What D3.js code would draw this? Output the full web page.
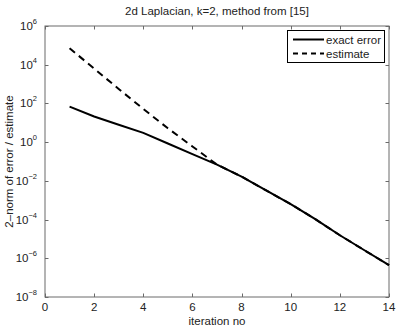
<!DOCTYPE html>
<html>
<head>
<meta charset="utf-8">
<script src="https://cdn.jsdelivr.net/npm/d3@7"></script>
<style>
  body { margin: 0; background: #fff; }
  svg { display: block; font-family: "Liberation Sans", Arial, sans-serif; }
</style>
</head>
<body>
<div id="chart"></div>
<script>
// iteration numbers
var iterations = [1, 2, 3, 4, 5, 6, 7, 8, 9, 10, 11, 12, 13, 14];
// exact error per iteration
var exactError = [68, 21, 7.9, 3.0, 0.85, 0.24, 0.069, 0.0166, 0.0032, 6.3e-4, 1.05e-4, 1.55e-5, 2.6e-6, 4.4e-7];
// error estimate per iteration
var estimate = [7.1e4, 6.3e3, 560, 52, 5.2, 0.6, 0.069, 0.0166, 0.0032, 6.3e-4, 1.05e-4, 1.55e-5, 2.6e-6, 4.4e-7];
var xTicks = [0, 2, 4, 6, 8, 10, 12, 14];
var yTickExps = [6, 4, 2, 0, -2, -4, -6, -8];

function MyChart() {

    this.init = function() {
        this._config = {
            width: 399,
            height: 329,
            left: 45,
            right: 389,
            top: 26,
            bottom: 297,
            font: 11.5
        };
        this._initElements();
        this._drawAxes();
        this._drawLines();
        this._drawLegend();
    };

    this._initElements = function() {
        var c = this._config;
        this._svg = d3.select('#chart')
            .append('svg')
            .attr('width', c.width)
            .attr('height', c.height);
        this._x = d3.scaleLinear().domain([0, 14]).range([c.left, c.right]);
        this._y = d3.scaleLog().domain([1e-8, 1e6]).range([c.bottom, c.top]);
    };

    this._drawAxes = function() {
        var c = this._config, x = this._x, y = this._y, svg = this._svg;
        var tickLen = 3.5;
        var axisColor = '#6a6a6a';

        svg.append('rect')
            .attr('x', c.left).attr('y', c.top)
            .attr('width', c.right - c.left).attr('height', c.bottom - c.top)
            .attr('fill', 'none').attr('stroke', axisColor).attr('stroke-width', 1);

        var g = svg.append('g').attr('stroke', axisColor).attr('stroke-width', 1);
        xTicks.forEach(function(t) {
            var px = Math.round(x(t)) + 0.5;
            g.append('line').attr('x1', px).attr('x2', px)
                .attr('y1', c.bottom).attr('y2', c.bottom - tickLen);
            g.append('line').attr('x1', px).attr('x2', px)
                .attr('y1', c.top).attr('y2', c.top + tickLen);
        });
        yTickExps.forEach(function(e) {
            var py = Math.round(y(Math.pow(10, e))) + 0.5;
            g.append('line').attr('x1', c.left).attr('x2', c.left + tickLen)
                .attr('y1', py).attr('y2', py);
            g.append('line').attr('x1', c.right).attr('x2', c.right - tickLen)
                .attr('y1', py).attr('y2', py);
        });

        svg.selectAll('.xlab').data(xTicks).enter().append('text')
            .attr('class', 'xlab')
            .attr('x', function(d) { return x(d); })
            .attr('y', c.bottom + 14)
            .attr('text-anchor', 'middle')
            .attr('font-size', c.font)
            .attr('fill', '#222')
            .text(function(d) { return d; });

        var yl = svg.selectAll('.ylab').data(yTickExps).enter().append('text')
            .attr('class', 'ylab')
            .attr('x', 37)
            .attr('y', function(d) { return y(Math.pow(10, d)) + 4; })
            .attr('text-anchor', 'end')
            .attr('font-size', c.font)
            .attr('fill', '#222');
        yl.append('tspan').text('10');
        yl.append('tspan')
            .attr('dy', -6)
            .attr('font-size', 7.5)
            .text(function(d) { return d < 0 ? '\u2212' + (-d) : d; });

        svg.append('text')
            .attr('x', (c.left + c.right) / 2)
            .attr('y', 15)
            .attr('text-anchor', 'middle')
            .attr('font-size', c.font)
            .attr('fill', '#222')
            .text('2d Laplacian, k=2, method from [15]');

        svg.append('text')
            .attr('x', (c.left + c.right) / 2)
            .attr('y', 325)
            .attr('text-anchor', 'middle')
            .attr('font-size', c.font)
            .attr('fill', '#222')
            .text('iteration no');

        svg.append('text')
            .attr('transform', 'translate(13,' + ((c.top + c.bottom) / 2) + ') rotate(-90)')
            .attr('text-anchor', 'middle')
            .attr('font-size', c.font)
            .attr('fill', '#222')
            .text('2\u2013norm of error / estimate');
    };

    this._drawLines = function() {
        var x = this._x, y = this._y;
        var line = d3.line()
            .x(function(d) { return x(d[0]); })
            .y(function(d) { return y(d[1]); });

        this._svg.append('path')
            .datum(d3.zip(iterations, exactError))
            .attr('d', line)
            .attr('fill', 'none')
            .attr('stroke', '#000')
            .attr('stroke-width', 2);

        this._svg.append('path')
            .datum(d3.zip(iterations, estimate))
            .attr('d', line)
            .attr('fill', 'none')
            .attr('stroke', '#000')
            .attr('stroke-width', 2)
            .attr('stroke-dasharray', '7,5');
    };

    this._drawLegend = function() {
        var svg = this._svg, c = this._config;
        var lg = svg.append('g');
        lg.append('rect')
            .attr('x', 287.5).attr('y', 30.5)
            .attr('width', 97).attr('height', 32)
            .attr('fill', '#fff').attr('stroke', '#000').attr('stroke-width', 1);
        var rows = [
            { name: 'exact error', dash: null, y: 39.5 },
            { name: 'estimate', dash: '5,4', y: 53.5 }
        ];
        rows.forEach(function(r) {
            var l = lg.append('line')
                .attr('x1', 293).attr('x2', 324)
                .attr('y1', r.y).attr('y2', r.y)
                .attr('stroke', '#000').attr('stroke-width', 2);
            if (r.dash) l.attr('stroke-dasharray', r.dash);
            lg.append('text')
                .attr('x', 326).attr('y', r.y + 4)
                .attr('font-size', c.font)
                .attr('fill', '#222')
                .text(r.name);
        });
    };

    this.init();
}

document.addEventListener('DOMContentLoaded', function() {
    window.myChart = new MyChart();
});
</script>
</body>
</html>
